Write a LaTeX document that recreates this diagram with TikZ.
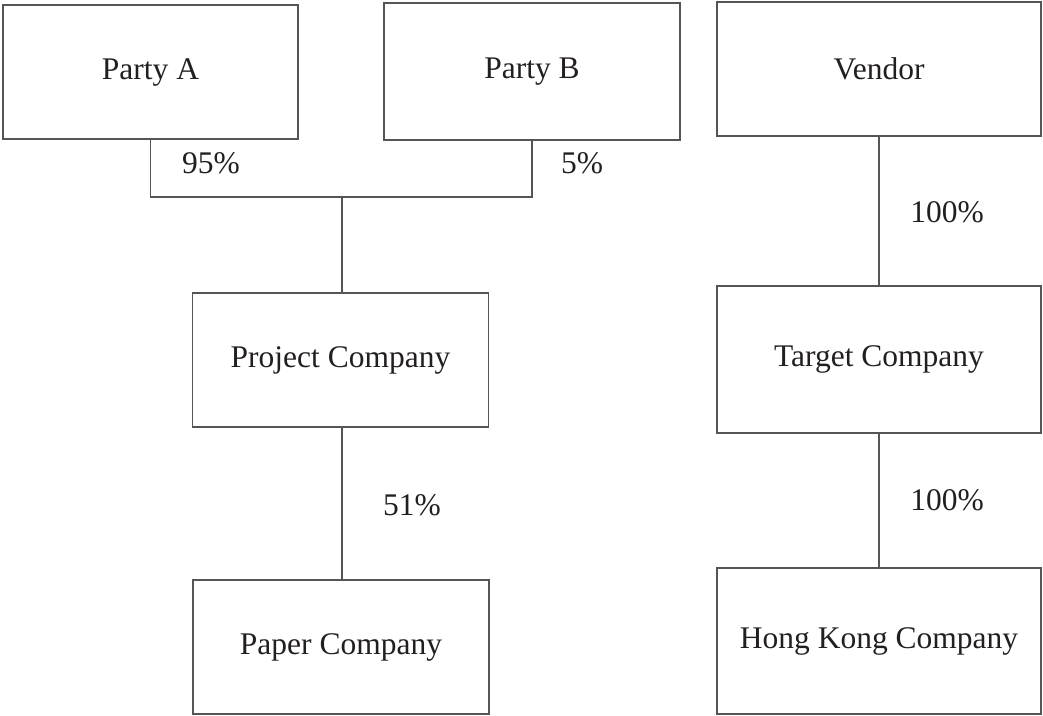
\documentclass[tikz,border=0pt]{standalone}
\usepackage{fontspec}
\setmainfont{Liberation Serif}
\definecolor{linec}{HTML}{555555}
\definecolor{textc}{HTML}{231F20}
\begin{document}
\begin{tikzpicture}[x=1pt,y=-1pt,
  entity/.style={draw=linec, line width=1.3pt, rectangle, inner sep=0pt, text=textc,
     font=\fontsize{31.5}{36}\selectfont},
  pct/.style={text=textc, inner sep=0pt, font=\fontsize{31.5}{36}\selectfont},
  link/.style={draw=linec, line width=1.3pt}]
\useasboundingbox (0,0) rectangle (1043,715);
\node[entity, minimum width=295pt, minimum height=134pt] (pa) at (150.5,72) {Party A};
\node[entity, minimum width=296pt, minimum height=137pt] (pb) at (532,71.5) {Party B};
\node[entity, minimum width=324pt, minimum height=134pt] (v) at (879,69) {Vendor};
\node[entity, minimum width=296pt, minimum height=134pt] (pc) at (340.5,360) {Project Company};
\node[entity, minimum width=296pt, minimum height=134pt] (pp) at (341,647) {Paper Company};
\node[entity, minimum width=324pt, minimum height=147pt] (tc) at (879,359.5) {Target Company};
\node[entity, minimum width=324pt, minimum height=146pt] (hk) at (879,641) {Hong Kong Company};
\coordinate (j) at (342,197);
\draw[link] (pa.south) -- (pa.south |- j) -- (pb.south |- j) -- (pb.south);
\draw[link] (j) -- (j |- pc.north);
\draw[link] (pc.south -| j) -- (pp.north -| j);
\draw[link] (v.south) -- (tc.north);
\draw[link] (tc.south) -- (hk.north);
\node[pct] (l95) at (211,163) {95\%};
\node[pct] (l5) at (582,163) {5\%};
\node[pct] (l51) at (412,505) {51\%};
\node[pct] (l100a) at (947,212) {100\%};
\node[pct] (l100b) at (947,500) {100\%};
\end{tikzpicture}
\end{document}
